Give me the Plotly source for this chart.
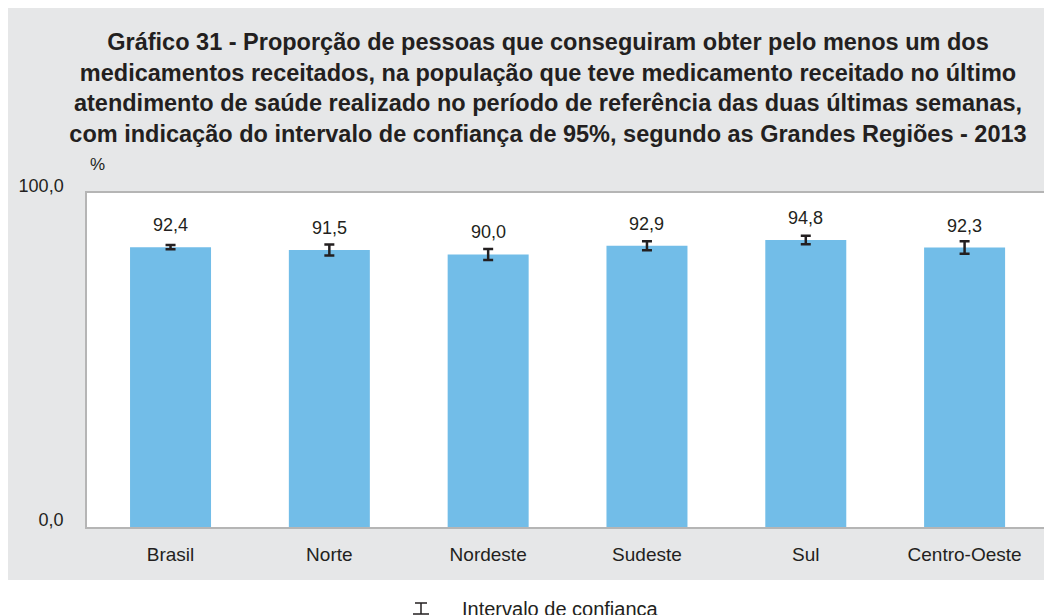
import plotly.graph_objects as go

categories = ["Brasil", "Norte", "Nordeste", "Sudeste", "Sul", "Centro-Oeste"]
values = [92.4, 91.5, 90.0, 92.9, 94.8, 92.3]
ci_half = [0.7, 1.8, 1.8, 1.5, 1.4, 2.1]
value_labels = ["92,4", "91,5", "90,0", "92,9", "94,8", "92,3"]
y_tick_vals = [0, 110.3]
y_tick_text = ["0,0", "100,0"]

TXT = "#231f20"
FONT = "Liberation Sans, Arial, sans-serif"

W, H = 1052, 615
L, T = 79, 185
pw, ph = 957, 334
R = W - L - pw
B = H - T - ph
OFF = 8  # page body margin


def fx(xs):
    return (xs - OFF - L) / pw


def fy(ys):
    return (H - B - (ys - OFF)) / ph


fig = go.Figure()
fig.add_trace(go.Bar(
    x=categories, y=values, width=0.51,
    marker=dict(color="#72bde8", line=dict(width=0)),
    error_y=dict(type="data", array=ci_half, visible=True,
                 color=TXT, thickness=2.5, width=5),
    showlegend=False, hoverinfo="skip",
))

annotations = []
for c, v, lab in zip(categories, values, value_labels):
    annotations.append(dict(x=c, y=v, text=lab, showarrow=False,
                            xanchor="center", yanchor="bottom", yshift=10,
                            font=dict(size=18, color=TXT, family=FONT)))
annotations.append(dict(x=fx(97), y=fy(164), xref="paper", yref="paper",
                        text="%", showarrow=False,
                        xanchor="center", yanchor="middle",
                        font=dict(size=17, color=TXT, family=FONT)))
annotations.append(dict(x=fx(460), y=fy(609), xref="paper", yref="paper",
                        text="Intervalo de confiança", showarrow=False,
                        xanchor="left", yanchor="middle",
                        font=dict(size=20, color=TXT, family=FONT)))

shapes = [
    dict(type="rect", xref="paper", yref="paper", x0=fx(-20), x1=fx(W + 20),
         y0=fy(580), y1=fy(H + 20), fillcolor="white", line=dict(width=0)),
    dict(type="line", xref="paper", yref="paper", x0=fx(421), x1=fx(421),
         y0=fy(603), y1=fy(614), line=dict(color=TXT, width=1.5)),
    dict(type="line", xref="paper", yref="paper", x0=fx(415), x1=fx(427),
         y0=fy(603), y1=fy(603), line=dict(color=TXT, width=1.5)),
    dict(type="line", xref="paper", yref="paper", x0=fx(413), x1=fx(429),
         y0=fy(614), y1=fy(614), line=dict(color=TXT, width=1.5)),
]

fig.update_layout(
    width=W, height=H,
    margin=dict(l=L, r=R, t=T, b=B),
    paper_bgcolor="#e6e7e8", plot_bgcolor="white",
    title=dict(
        text="<b>Gráfico 31 - Proporção de pessoas que conseguiram obter pelo menos um dos<br>"
             "medicamentos receitados, na população que teve medicamento receitado no último<br>"
             "atendimento de saúde realizado no período de referência das duas últimas semanas,<br>"
             "com indicação do intervalo de confiança de 95%, segundo as Grandes Regiões - 2013</b>",
        x=(548 - OFF) / W, xanchor="center", y=1 - 42 / H, yanchor="top",
        font=dict(size=23.5, color=TXT, family=FONT),
    ),
    xaxis=dict(range=[-0.526, 5.5], showgrid=False, showline=True, mirror=True,
               linecolor="#b5b5b5", linewidth=1.5, ticks="", ticklabelstandoff=9,
               tickfont=dict(size=19, color=TXT, family=FONT)),
    yaxis=dict(range=[0, 110.3], showgrid=False, showline=True, mirror=True,
               linecolor="#b5b5b5", linewidth=1.5, ticks="",
               tickvals=y_tick_vals, ticktext=y_tick_text,
               ticklabelstandoff=18, ticklabelshift=-7, zeroline=False,
               tickfont=dict(size=18, color=TXT, family=FONT)),
    annotations=annotations, shapes=shapes,
)

fig.write_html("out.html")
